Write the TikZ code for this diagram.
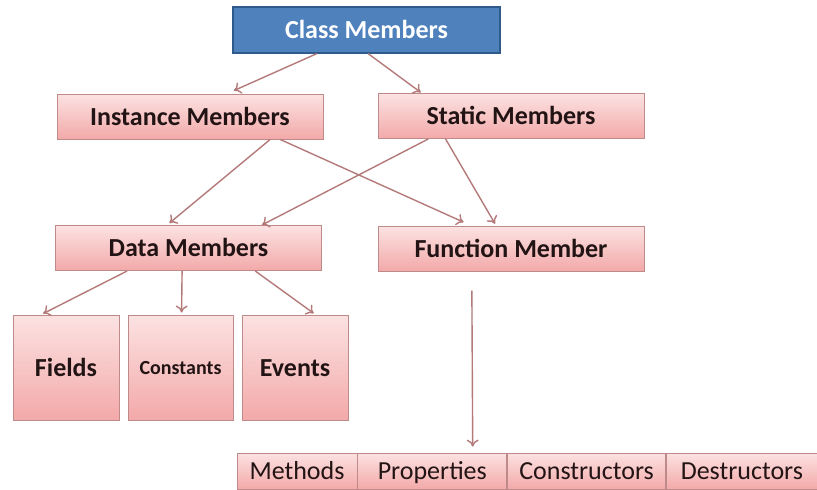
\documentclass[tikz,border=0pt]{standalone}
\usepackage{fontspec}
\setmainfont{Carlito}
\usepackage{tikz}
\usetikzlibrary{calc,positioning,arrows.meta}
\tikzset{>={To[length=7pt,width=12pt]}}

\definecolor{boxtop}{HTML}{FCE2E2}
\definecolor{boxbot}{HTML}{F3A9A9}
\definecolor{boxline}{HTML}{BF8A8A}
\definecolor{clsfill}{HTML}{4F81BD}
\definecolor{clsline}{HTML}{2F5A8C}
\definecolor{arrowcol}{HTML}{B47A7A}
\definecolor{txtcol}{HTML}{221414}

\begin{document}
\begin{tikzpicture}[x=1pt,y=-1pt,
    member/.style={draw=boxline, line width=1pt, top color=boxtop, bottom color=boxbot,
        text=txtcol, font=\fontsize{26}{28}\selectfont\bfseries, inner sep=0pt,
        text height=20pt, text depth=3pt, minimum width=266pt, minimum height=45pt},
    topbox/.style={member, top color=clsfill, bottom color=clsfill, draw=clsline,
        text=white, line width=1.2pt},
    leaf/.style={member, minimum width=106pt, minimum height=105pt},
    cell/.style={draw=boxline, line width=0.8pt, top color=boxtop, bottom color=boxbot,
        text=txtcol, font=\fontsize{26}{28}\selectfont, inner sep=0pt,
        text height=20pt, text depth=3pt, minimum height=36pt},
    link/.style={->, draw=arrowcol, line width=1.4pt}]

    \useasboundingbox (0,0) rectangle (817,490);

    % Top of the tree
    \node[topbox, minimum width=267pt, minimum height=46pt] (clsm) at (366.5,30) {Class Members};

    % Second and third level
    \node[member] (inst) at (190,116.5) {Instance Members};
    \node[member] (stat) at (511,116) {Static Members};
    \node[member] (data) at (188.5,248) {Data Members};
    \node[member] (func) at (511,248.5) {Function Member};

    % Kinds of data members
    \node[leaf] (fields) at (66,367.5) {Fields};
    \node[leaf, minimum width=105pt, font=\fontsize{20}{22}\selectfont\bfseries,
        text height=17pt, text depth=4pt] (consts) at (180.5,367.5) {Constants};
    \node[leaf] (events) at (295,367.5) {Events};

    % Kinds of function members, one row
    \node[cell, minimum width=120pt] (meth) at (297,471) {Methods};
    \node[cell, minimum width=149pt, right=0pt of meth] (prop) {Properties};
    \node[cell, minimum width=158pt, right=0pt of prop] (ctor) {Constructors};
    \node[cell, minimum width=151pt, right=0pt of ctor] (dtor) {Destructors};

    % Arrows
    \draw[link, shorten >=7pt] ($(clsm.south west)!.315!(clsm.south east)$) -- ($(inst.north west)!.64!(inst.north east)$);
    \draw[link, shorten >=1pt] ($(clsm.south west)!.506!(clsm.south east)$) -- ($(stat.north west)!.165!(stat.north east)$);
    \draw[link, shorten >=3pt] ($(inst.south west)!.80!(inst.south east)$) -- ($(data.north west)!.42!(data.north east)$);
    \draw[link, shorten >=8pt] ($(inst.south west)!.838!(inst.south east)$) -- ($(func.north west)!.35!(func.north east)$);
    \draw[link] ($(stat.south west)!.19!(stat.south east)$) -- ($(data.north west)!.775!(data.north east)$);
    \draw[link, shorten >=2pt] ($(stat.south west)!.255!(stat.south east)$) -- ($(func.north west)!.444!(func.north east)$);
    \draw[link, shorten >=2pt] ($(data.south west)!.27!(data.south east)$) -- ($(fields.north west)!.27!(fields.north east)$);
    \draw[link, shorten >=2pt] ($(data.south west)!.476!(data.south east)$) -- ($(consts.north west)!.51!(consts.north east)$);
    \draw[link, shorten >=2pt] ($(data.south west)!.75!(data.south east)$) -- ($(events.north west)!.69!(events.north east)$);
    \draw[link, shorten <=19pt, shorten >=6pt] ($(func.south west)!.353!(func.south east)$) -- ($(prop.north west)!.77!(prop.north east)$);

\end{tikzpicture}
\end{document}
